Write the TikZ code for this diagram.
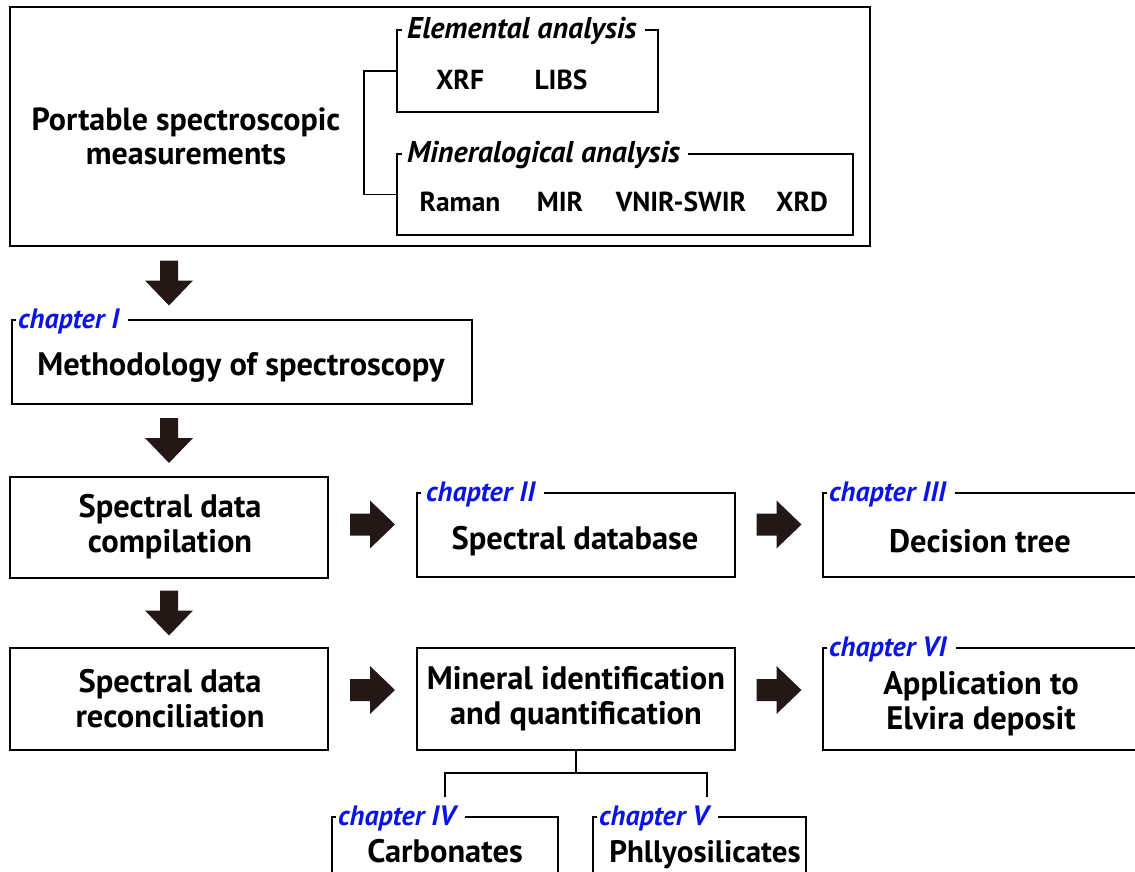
\documentclass[tikz,border=0pt]{standalone}
\usepackage{fontspec}
\setmainfont{PT Sans}
\usetikzlibrary{calc}
\definecolor{arrowc}{HTML}{231815}
\definecolor{chapblue}{HTML}{0A14E6}
\tikzset{
  downarr/.pic={\fill[arrowc] (-9,-22.5) -- (9,-22.5) -- (9,-2.5) -- (24,-2.5) -- (0,22.5) -- (-24,-2.5) -- (-9,-2.5) -- cycle;},
  rightarr/.pic={\fill[arrowc] (-22.5,-11) -- (-2.5,-11) -- (-2.5,-24) -- (22.5,0) -- (-2.5,24) -- (-2.5,11) -- (-22.5,11) -- cycle;}
}
\begin{document}
\begin{tikzpicture}[x=1pt,y=-1pt,
  frame/.style={line width=1.8pt, line join=miter},
  boxnode/.style={rectangle, inner sep=0pt, outer sep=0pt, anchor=north west},
  bigtxt/.style={font=\fontsize{32.5}{35}\selectfont\bfseries, align=center, inner sep=0pt},
  midtxt/.style={font=\fontsize{32}{34}\selectfont\bfseries, align=center, inner sep=0pt},
  subtxt/.style={font=\fontsize{27.5}{28}\selectfont\bfseries, inner sep=0pt},
  grouplab/.style={font=\fontsize{30}{30}\selectfont\bfseries\itshape, inner sep=0pt, anchor=west},
  chap/.style={font=\fontsize{28}{28}\selectfont\bfseries\itshape, inner sep=0pt, anchor=west, text=chapblue}
]
\useasboundingbox (0,0) rectangle (1135,872);
\clip (0,0) rectangle (1135,872);

% ---------- top box ----------
\node[boxnode, minimum width=860, minimum height=239] (top) at (10,7) {};
\draw[frame] (top.north west) rectangle (top.south east);
\node[midtxt] (port) at (186,136) {Portable spectroscopic\\measurements};

\node[boxnode, minimum width=261, minimum height=82] (elem) at (397,30) {};
\node[grouplab] (elemlab) at (407,31) {Elemental analysis};
\draw[frame] ($(elem.north west)+(5,0)$) -- (elem.north west) -- (elem.south west) -- (elem.south east) -- (elem.north east) -- ($(elemlab.east |- elem.north)+(8,0)$);
\node[subtxt] (xrf) at (460,80) {XRF};
\node[subtxt] (libs) at (561,80) {LIBS};

\node[boxnode, minimum width=456, minimum height=81] (mine) at (397,154) {};
\node[grouplab] (minelab) at (407,155) {Mineralogical analysis};
\draw[frame] ($(mine.north west)+(5,0)$) -- (mine.north west) -- (mine.south west) -- (mine.south east) -- (mine.north east) -- ($(minelab.east |- mine.north)+(8,0)$);
\node[subtxt] (raman) at (460,202) {Raman};
\node[subtxt] (mir) at (560,202) {MIR};
\node[subtxt] (vnir) at (681,202) {VNIR-SWIR};
\node[subtxt] (xrd) at (802,202) {XRD};

\draw[frame] (elem.west) -- ++(-33,0) |- (mine.west);

% ---------- chapter I ----------
\node[boxnode, minimum width=460, minimum height=84] (ch1) at (12,320) {};
\node[chap] (ch1lab) at (18,321) {chapter I};
\draw[frame] ($(ch1.north west)+(4,0)$) -- (ch1.north west) -- (ch1.south west) -- (ch1.south east) -- (ch1.north east) -- ($(ch1lab.east |- ch1.north)+(9,0)$);
\node[bigtxt] (meth) at (241,367) {Methodology of spectroscopy};

% ---------- row 2 ----------
\node[boxnode, minimum width=318, minimum height=101] (sdc) at (10,477) {};
\draw[frame] (sdc.north west) rectangle (sdc.south east);
\node[bigtxt] (sdctxt) at (170,527) {Spectral data\\compilation};

\node[boxnode, minimum width=318, minimum height=84] (ch2) at (417,493) {};
\node[chap] (ch2lab) at (426,494) {chapter II};
\draw[frame] ($(ch2.north west)+(4,0)$) -- (ch2.north west) -- (ch2.south west) -- (ch2.south east) -- (ch2.north east) -- ($(ch2lab.east |- ch2.north)+(9,0)$);
\node[bigtxt] (sdb) at (575,541) {Spectral database};

\node[boxnode, minimum width=340, minimum height=84] (ch3) at (823,493) {};
\node[chap] (ch3lab) at (829,494) {chapter III};
\draw[frame] ($(ch3.north west)+(4,0)$) -- (ch3.north west) -- (ch3.south west) -- (ch3.south east) -- (ch3.north east) -- ($(ch3lab.east |- ch3.north)+(9,0)$);
\node[bigtxt] (dt) at (980,541) {Decision tree};

% ---------- row 3 ----------
\node[boxnode, minimum width=318, minimum height=102] (sdr) at (10,648) {};
\draw[frame] (sdr.north west) rectangle (sdr.south east);
\node[bigtxt] (sdrtxt) at (170,699) {Spectral data\\reconciliation};

\node[boxnode, minimum width=318, minimum height=102] (miq) at (417,648) {};
\draw[frame] (miq.north west) rectangle (miq.south east);
\node[bigtxt] (miqtxt) at (576,699) {Mineral identification\\and quantification};

\node[boxnode, minimum width=340, minimum height=102] (ch6) at (823,648) {};
\node[chap] (ch6lab) at (829,649) {chapter VI};
\draw[frame] ($(ch6.north west)+(4,0)$) -- (ch6.north west) -- (ch6.south west) -- (ch6.south east) -- (ch6.north east) -- ($(ch6lab.east |- ch6.north)+(9,0)$);
\node[bigtxt] (app) at (981,704) {Application to\\Elvira deposit};

% ---------- row 4 ----------
\node[boxnode, minimum width=226, minimum height=90] (ch4) at (332,817) {};
\node[chap] (ch4lab) at (338,818) {chapter IV};
\draw[frame] ($(ch4.north west)+(4,0)$) -- (ch4.north west) -- (ch4.south west) -- (ch4.south east) -- (ch4.north east) -- ($(ch4lab.east |- ch4.north)+(9,0)$);
\node[bigtxt, anchor=base] (carb) at (445,862) {Carbonates};

\node[boxnode, minimum width=213, minimum height=90] (ch5) at (593,817) {};
\node[chap] (ch5lab) at (599,818) {chapter V};
\draw[frame] ($(ch5.north west)+(4,0)$) -- (ch5.north west) -- (ch5.south west) -- (ch5.south east) -- (ch5.north east) -- ($(ch5lab.east |- ch5.north)+(9,0)$);
\node[bigtxt, font=\fontsize{31}{35}\selectfont\bfseries, anchor=base] (phy) at (705,862) {Phllyosilicates};

% tree
\coordinate (tj) at ($(miq.south)+(0,23)$);
\coordinate (t4) at (445,797);
\coordinate (t5) at (707,797);
\draw[frame] (miq.south) -- (tj);
\draw[frame] (t4) |- (tj) -| (t5);

% ---------- block arrows ----------
\pic at ($(top.south -| sdc.north)!0.5!(ch1.north -| sdc.north)$) {downarr};
\pic at ($(ch1.south -| sdc.north)!0.5!(sdc.north)$) {downarr};
\pic at ($(sdc.south)!0.5!(sdr.north)$) {downarr};
\pic at ($(sdc.east)!0.5!(ch2.west |- sdc.east)+(0,-3)$) {rightarr};
\pic at ($(ch2.east |- sdc.east)!0.5!(ch3.west |- sdc.east)+(0,-3)$) {rightarr};
\pic at ($(sdr.east)!0.5!(miq.west)+(0,-9)$) {rightarr};
\pic at ($(miq.east)!0.5!(ch6.west)+(0,-9)$) {rightarr};
\end{tikzpicture}
\end{document}
